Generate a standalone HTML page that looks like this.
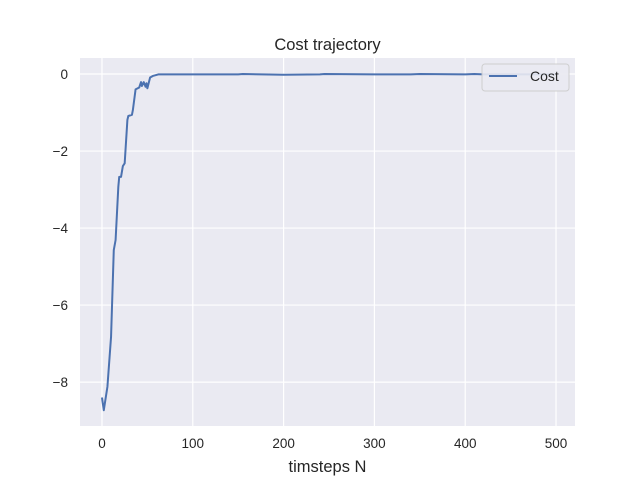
<!DOCTYPE html>
<html><head><meta charset="utf-8"><style>
body{margin:0;background:#fff;}
svg{display:block;font-family:"Liberation Sans","DejaVu Sans",sans-serif;}
</style></head><body>
<svg id="chart" width="640" height="480">
<rect x="80" y="58" width="495" height="368" fill="#eaeaf2"/>
<g id="grid"></g>
<g id="ticks"></g>
<path id="line" fill="none" stroke="#4c72b0" stroke-width="2" stroke-linejoin="round"/>
<text x="327.5" y="50" text-anchor="middle" font-size="16.5" fill="#262626">Cost trajectory</text>
<text x="327.5" y="472" text-anchor="middle" font-size="16.5" fill="#262626">timsteps N</text>
<g>
<rect x="482" y="64" width="87" height="27" rx="3" fill="#eaeaf2" stroke="#cccccc" opacity="0.9"/>
<line x1="489" y1="76" x2="517" y2="76" stroke="#4c72b0" stroke-width="2"/>
<text x="530" y="81" font-size="14" fill="#262626">Cost</text>
</g>
</svg>
<script>
const steps = [0,2,6,10,13,15,18,19,21,23,25,28,29,33,34,37,41,43,44,46,48,49,50,53,56,62,100,150,155,200,240,245,300,340,350,400,410,420,450,499];
const costs = [-8.40,-8.73,-8.12,-6.82,-4.57,-4.31,-2.93,-2.67,-2.67,-2.39,-2.32,-1.19,-1.09,-1.06,-0.94,-0.40,-0.35,-0.21,-0.31,-0.21,-0.33,-0.24,-0.37,-0.09,-0.05,-0.01,-0.01,-0.01,0.0,-0.02,-0.01,0.0,-0.01,-0.01,0.0,-0.01,0.0,-0.01,-0.01,-0.01];
const xTicks = [0,100,200,300,400,500];
const yTicks = [0,-2,-4,-6,-8];
const X0=80,X1=575,Y0=58,Y1=426;
const xMin=-24.2,xMax=520.9,yMin=-9.14,yMax=0.416;
function sx(v){return X0+(v-xMin)/(xMax-xMin)*(X1-X0);}
function sy(v){return Y1-(v-yMin)/(yMax-yMin)*(Y1-Y0);}
const NS="http://www.w3.org/2000/svg";
const grid=document.getElementById('grid'), ticks=document.getElementById('ticks');
xTicks.forEach(t=>{
  const l=document.createElementNS(NS,'line');
  l.setAttribute('x1',sx(t));l.setAttribute('x2',sx(t));l.setAttribute('y1',Y0);l.setAttribute('y2',Y1);
  l.setAttribute('stroke','#fff');l.setAttribute('stroke-width','1.2');
  
  
  grid.appendChild(l);
  const tx=document.createElementNS(NS,'text');
  tx.setAttribute('x',sx(t));tx.setAttribute('y',448);tx.setAttribute('text-anchor','middle');
  tx.setAttribute('font-size','13.5');tx.setAttribute('fill','#262626');tx.textContent=t;
  
  
  ticks.appendChild(tx);
});
yTicks.forEach(t=>{
  const l=document.createElementNS(NS,'line');
  l.setAttribute('x1',X0);l.setAttribute('x2',X1);l.setAttribute('y1',sy(t));l.setAttribute('y2',sy(t));
  l.setAttribute('stroke','#fff');l.setAttribute('stroke-width','1.2');
  
  
  grid.appendChild(l);
  const tx=document.createElementNS(NS,'text');
  tx.setAttribute('x',68);tx.setAttribute('y',sy(t)+5);tx.setAttribute('text-anchor','end');
  tx.setAttribute('font-size','13.5');tx.setAttribute('fill','#262626');tx.textContent=t===0?'0':'\u2212'+Math.abs(t);
  
  
  ticks.appendChild(tx);
});
document.getElementById('line').setAttribute('d',steps.map((s,i)=>(i?'L':'M')+sx(s).toFixed(2)+','+sy(costs[i]).toFixed(2)).join(''));
</script>
</body></html>
